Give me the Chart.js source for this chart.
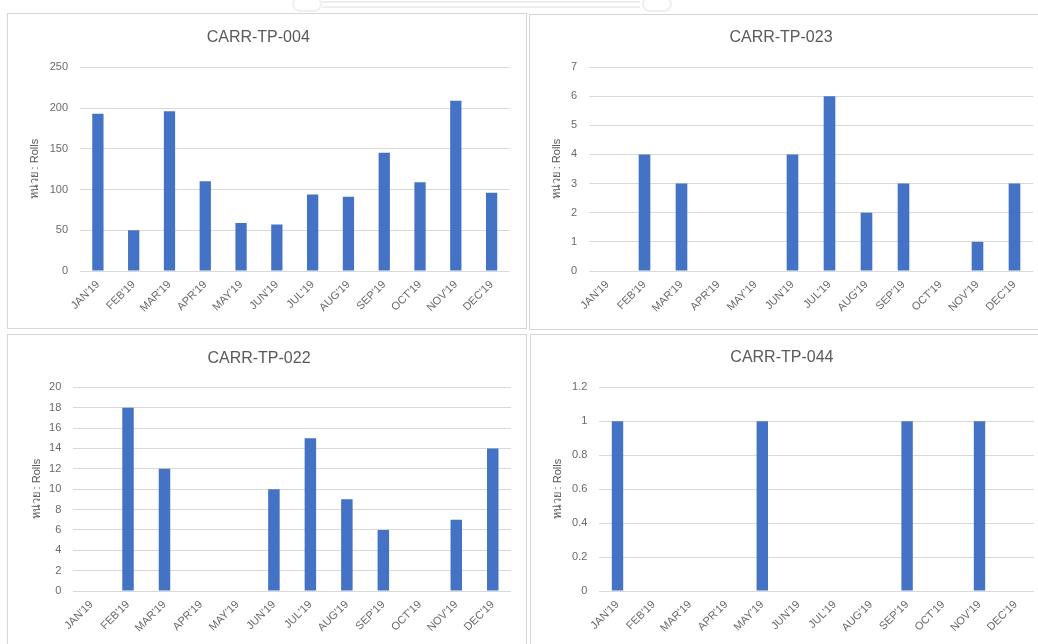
<!DOCTYPE html>
<html>
<head>
<meta charset="utf-8">
<script src="https://cdn.jsdelivr.net/npm/chart.js@4.4.1/dist/chart.umd.min.js"></script>
<style>
  html, body { margin: 0; padding: 0; background: #ffffff; width: 1038px; height: 644px; overflow: hidden; }
  .panel { position: absolute; box-sizing: border-box; border: 1px solid #d6d6d6; background: #ffffff; }
  .panel canvas { position: absolute; left: -1px; top: -1px; }
  .seal { position: absolute; left: 322px; top: 1px; width: 318px; height: 7px;
          border-top: 2px solid #eeeeee; border-bottom: 2px solid #eeeeee; box-sizing: border-box; }
  .seal-end { position: absolute; top: -4px; width: 30px; height: 16px; border: 2px solid #f0f0f0; border-radius: 10px; box-sizing: border-box; }
</style>
</head>
<body>
<div class="seal"></div>
<div class="seal-end" style="left:292px"></div>
<div class="seal-end" style="left:642px"></div>

<div class="panel" id="p1"><canvas id="c1"></canvas></div>
<div class="panel" id="p2"><canvas id="c2"></canvas></div>
<div class="panel" id="p3"><canvas id="c3"></canvas></div>
<div class="panel" id="p4"><canvas id="c4"></canvas></div>

<script>
// Monthly roll counts per carrier, 2019
const months = ["JAN'19", "FEB'19", "MAR'19", "APR'19", "MAY'19", "JUN'19",
                "JUL'19", "AUG'19", "SEP'19", "OCT'19", "NOV'19", "DEC'19"];
const tp004 = [193, 50, 196, 110, 59, 57, 94, 91, 145, 109, 209, 96];
const tp023 = [0, 4, 3, 0, 0, 4, 6, 2, 3, 0, 1, 3];
const tp022 = [0, 18, 12, 0, 0, 10, 15, 9, 6, 0, 7, 14];
const tp044 = [1, 0, 0, 0, 1, 0, 0, 0, 1, 0, 1, 0];

// Y-axis ranges
const yMax004 = 250, yStep004 = 50;
const yMax023 = 7, yStep023 = 1;
const yMax022 = 20, yStep022 = 2;
const yMax044 = 1.2, yStep044 = 0.2;

const unitLabel = 'หน่วย : Rolls';

const FONT = "'Liberation Sans', Arial, 'Noto Sans', sans-serif";
const TEXT = '#595959';
const TICK = '#6a6a6a';
const GRID = '#d9d9d9';
const BAR = '#4472C4';

// Page layout of each panel: box = [left, top, width, height], plot = [left, top, right, bottom]
const layouts = {
  c1: { box: [7, 13, 520, 316],  plot: [80, 67.3, 509.5, 271],   titleY: 38,  axisTitleX: 35 },
  c2: { box: [529, 14, 520, 316], plot: [589, 67, 1033, 271],    titleY: 38,  axisTitleX: 557 },
  c3: { box: [7, 334, 520, 320], plot: [73.3, 387.3, 511, 591],  titleY: 358.5, axisTitleX: 36.5 },
  c4: { box: [530, 334, 520, 320], plot: [599.4, 387.3, 1033.8, 591], titleY: 357.5, axisTitleX: 558 }
};

function fmt(v) { return String(Number(Number(v).toFixed(2))); }

function makeChart(id, title, values, yMax, yStep) {
  const L = layouts[id];
  const [bx, by, bw, bh] = L.box;
  const [pl, pt, pr, pb] = L.plot;

  const panel = document.getElementById(id).parentNode;
  panel.style.left = bx + 'px';
  panel.style.top = by + 'px';
  panel.style.width = bw + 'px';
  panel.style.height = bh + 'px';

  const canvas = document.getElementById(id);
  canvas.width = bw;
  canvas.height = bh;

  const titleSize = 16;
  const titleLine = titleSize * 1.2;
  const titleBox = pt - by;
  const titlePadTop = (L.titleY - by) - titleLine / 2;
  const titlePadBottom = titleBox - titlePadTop - titleLine;

  const axisTitleSize = 11;
  const axisTitlePad = (L.axisTitleX - bx) - axisTitleSize * 1.2 / 2;

  return new Chart(canvas, {
    type: 'bar',
    data: {
      labels: months,
      datasets: [{
        label: title,
        data: values,
        backgroundColor: BAR,
        borderWidth: 0,
        categoryPercentage: 1.0,
        barPercentage: 0.315
      }]
    },
    options: {
      responsive: false,
      animation: false,
      devicePixelRatio: 1,
      layout: { padding: { left: 0, top: 0, right: bx + bw - pr, bottom: 0 } },
      plugins: {
        legend: { display: false },
        tooltip: { enabled: false },
        title: {
          display: true,
          text: title,
          color: TEXT,
          font: { family: FONT, size: titleSize, weight: 'normal' },
          padding: { top: titlePadTop, bottom: titlePadBottom }
        }
      },
      scales: {
        x: {
          grid: { display: false, drawTicks: false },
          border: { display: false },
          ticks: {
            color: TICK,
            font: { family: FONT, size: 11 },
            minRotation: 45,
            maxRotation: 45,
            autoSkip: false,
            padding: 7
          },
          afterFit(scale) { scale.height = by + bh - pb; }
        },
        y: {
          min: 0,
          max: yMax,
          grid: { color: GRID, lineWidth: 1, drawTicks: false },
          border: { display: false },
          ticks: {
            stepSize: yStep,
            color: TICK,
            font: { family: FONT, size: 11 },
            padding: 12,
            callback: (v) => fmt(v)
          },
          title: {
            display: true,
            text: unitLabel,
            color: TEXT,
            font: { family: FONT, size: axisTitleSize },
            padding: { top: axisTitlePad, bottom: 0 }
          },
          afterFit(scale) { scale.width = pl - bx; }
        }
      }
    }
  });
}

makeChart('c1', 'CARR-TP-004', tp004, yMax004, yStep004);
makeChart('c2', 'CARR-TP-023', tp023, yMax023, yStep023);
makeChart('c3', 'CARR-TP-022', tp022, yMax022, yStep022);
makeChart('c4', 'CARR-TP-044', tp044, yMax044, yStep044);
</script>
</body>
</html>
